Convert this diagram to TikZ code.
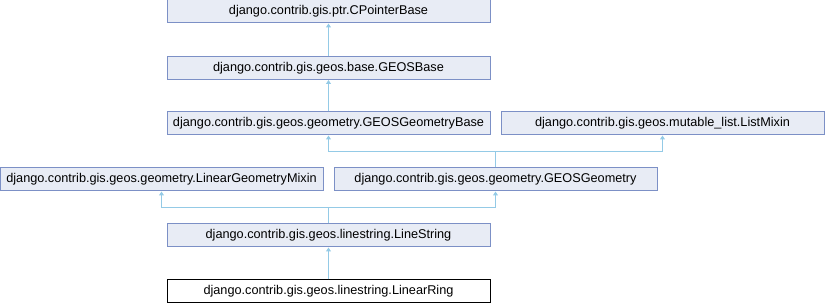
\documentclass[tikz,border=0pt]{standalone}
\usepackage{fontspec}
\setmainfont{Liberation Sans}
\usetikzlibrary{arrows.meta}

\definecolor{clsfill}{HTML}{E8ECF5}
\definecolor{clsdraw}{HTML}{7C90C6}
\definecolor{inhedge}{HTML}{94CAE6}

\tikzset{
  cls/.style={draw=clsdraw, fill=clsfill, line width=1pt, rectangle,
    minimum width=323pt, minimum height=23pt, inner sep=0pt,
    font=\fontsize{12.7}{15}\selectfont},
  curcls/.style={cls, draw=black, fill=white},
  inh/.style={draw=inhedge, line width=1pt, -{Triangle[length=4pt,width=5pt]}}
}

\begin{document}
\begin{tikzpicture}[x=1pt,y=-1pt]
\useasboundingbox (0,0) rectangle (825,304);
% classes
\node[cls] (cptr) at (328.5,11.5) {django.contrib.gis.ptr.CPointerBase};
\node[cls] (geosbase) at (328.5,68) {django.contrib.gis.geos.base.GEOSBase};
\node[cls] (geombase) at (328.5,123.5) {django.contrib.gis.geos.geometry.GEOSGeometryBase};
\node[cls] (listmixin) at (662.5,123.5) {django.contrib.gis.geos.mutable\_list.ListMixin};
\node[cls] (lingeom) at (161.5,179.5) {django.contrib.gis.geos.geometry.LinearGeometryMixin};
\node[cls] (geosgeom) at (495.5,179.5) {django.contrib.gis.geos.geometry.GEOSGeometry};
\node[cls] (linestr) at (328.5,235.5) {django.contrib.gis.geos.linestring.LineString};
\node[curcls] (linring) at (328.5,291.5) {django.contrib.gis.geos.linestring.LinearRing};
% inheritance
\coordinate (j1) at (495.5,152);
\coordinate (j2) at (328.5,208);
\draw[inh] (geosbase) -- (cptr);
\draw[inh] (geombase) -- (geosbase);
\draw[inh] (geosgeom.north) -- (j1) -| (geombase.south);
\draw[inh] (j1) -| (listmixin.south);
\draw[inh] (linestr.north) -- (j2) -| (lingeom.south);
\draw[inh] (j2) -| (geosgeom.south);
\draw[inh] (linring) -- (linestr);
\end{tikzpicture}
\end{document}
